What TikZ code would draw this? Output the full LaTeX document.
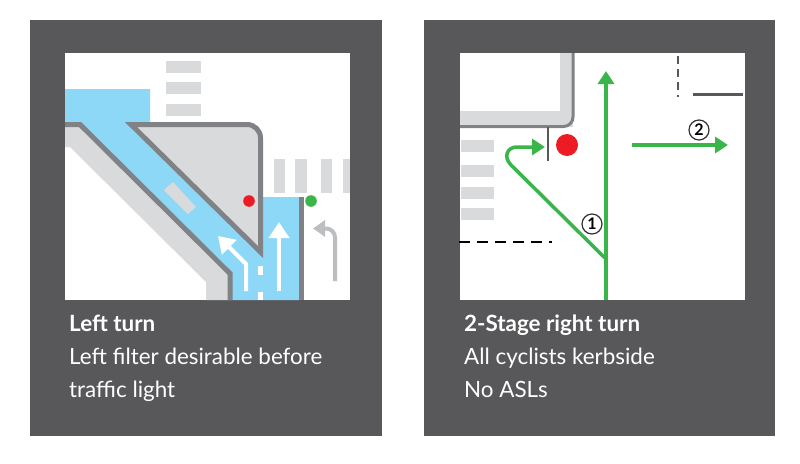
\documentclass[tikz,border=0pt]{standalone}
\usepackage{fontspec}
\setmainfont{Lato}
\usepackage{tikz}
\usetikzlibrary{arrows.meta}
\definecolor{panelgrey}{HTML}{58585A}
\definecolor{kerbgrey}{HTML}{808285}
\definecolor{padgrey}{HTML}{D9DADB}
\definecolor{signgrey}{HTML}{BCBEC0}
\definecolor{lanefill}{HTML}{8DD7F7}
\definecolor{cyclegreen}{HTML}{39B54A}
\definecolor{lightred}{HTML}{ED1C24}
\tikzset{
    caption/.style={anchor=base west, text=white, inner sep=0pt, font=\fontsize{22.4}{26}\selectfont},
    kerb/.style={draw=kerbgrey, line width=5pt, line join=miter},
    whitearrow/.style={draw=white, line width=4pt, -{Triangle[length=16pt,width=20pt]}},
    route/.style={draw=cyclegreen, line width=3.5pt, -{Triangle[length=13pt,width=16pt]}},
    stagemark/.style={circle, draw=black!80, line width=1.2pt, fill=white, minimum size=20pt, inner sep=0pt, font=\fontsize{16}{16}\selectfont\bfseries}
}
\newcommand{\panelbox}[2]{\fill[panelgrey] (#1,20) rectangle ++(351.5,416); \fill[white] (#2,53) rectangle ++(285,247);}
\newcommand{\hstripe}[3]{\fill[padgrey] (#1,#3) rectangle (#2,#3+11.5);}
\newcommand{\vstripe}[2]{\fill[padgrey] (#1,159) rectangle (#2,193);}

\begin{document}
\begin{tikzpicture}[x=1pt, y=-1pt]
    \useasboundingbox (0,0) rectangle (800,463);
    \fill[white] (0,0) rectangle (800,463);
    \panelbox{30}{65}
    \panelbox{423.5}{460}

    % left turn
    \fill[lanefill] (65,89) -- (150,89) -- (150,124) -- (131,124) -- (260,252) -- (263,252) -- (263,197)
        -- (299,197) -- (299,300) -- (230,300) -- (230,273) -- (80,124) -- (65,124) -- cycle;
    \fill[padgrey] (65,124) -- (80,124) -- (230,273) -- (230,300) -- (206,300) -- (206,282) -- (70,147) -- (65,147) -- cycle;
    \draw[kerb] (65,124.5) -- (80,124.5) -- (230,273.5) -- (230,300);
    \fill[padgrey] (131,124.5) -- (247,124.5) arc[start angle=-90, end angle=0, radius=13.5] -- (260.5,252) -- cycle;
    \draw[kerb] (260.5,252) -- (131,124.5) -- (247,124.5) arc[start angle=-90, end angle=0, radius=13.5] -- cycle;
    \draw[kerb] (301,197) -- (301,300);
    \hstripe{166}{201}{61}
    \hstripe{166}{201}{82}
    \hstripe{166}{201}{104}
    \vstripe{274}{285}
    \vstripe{295}{307}
    \vstripe{321}{332}
    \vstripe{343}{350}
    \fill[padgrey] (173,182) -- (196,207) -- (188,214) -- (164,190) -- cycle;
    \fill[white] (258,266) rectangle (263,275);
    \fill[white] (258,292) rectangle (263,300);
    \fill[lightred] (249,201) circle (5.8pt);
    \fill[cyclegreen] (311,201) circle (5.8pt);
    \coordinate (straightfoot) at (279,291);
    \coordinate (straighttip) at (279,222);
    \coordinate (filterfoot) at (246,291);
    \coordinate (filterbend) at (246,264);
    \coordinate (filtertip) at (218,236);
    \draw[whitearrow] (straightfoot) -- (straighttip);
    \draw[whitearrow] (filterfoot) -- (filterbend) -- (filtertip);
    \coordinate (signfoot) at (335,281);
    \coordinate (signtip) at (313,228.5);
    \draw[signgrey, line width=4pt, rounded corners=9pt, -{Triangle[length=12pt,width=16pt]}] (signfoot) -- (335,228.5) -- (signtip);
    \node[caption] (lefttitle) at (69,331) {\textbf{Left turn}};
    \node[caption] (leftone) at (69,364) {Left filter desirable before};
    \node[caption] (lefttwo) at (69,397) {traffic light};

    % two stage turn
    \fill[padgrey] (460,53) rectangle (573,127);
    \fill[white] (460,53) rectangle (560,111);
    \draw[kerbgrey, line width=3pt] (573,53) -- (573,117) arc[start angle=0, end angle=90, radius=9.5] -- (460,126.5);
    \draw[panelgrey, line width=2.5pt] (548,127) -- (548,161);
    \hstripe{461}{494}{140}
    \hstripe{461}{494}{165}
    \hstripe{461}{494}{187}
    \hstripe{461}{494}{208}
    \fill[lightred] (567,145) circle (11pt);
    \draw[black, line width=1.8pt, dash pattern=on 11pt off 7pt] (459,242) -- (552,242);
    \draw[panelgrey, line width=1.6pt, dash pattern=on 8pt off 5pt] (678,56) -- (678,97);
    \draw[panelgrey, line width=3pt] (693,94) -- (743,94);
    \coordinate (mainfoot) at (606,300);
    \coordinate (maintip) at (606,71);
    \coordinate (splitpoint) at (606,259);
    \coordinate (boxtip) at (545,147);
    \coordinate (crossfoot) at (632,145);
    \coordinate (crosstip) at (728,145);
    \draw[route] (mainfoot) -- (maintip);
    \draw[route] (splitpoint) -- (511,165) .. controls (503,157) and (507,147) .. (517,147) -- (boxtip);
    \draw[route] (crossfoot) -- (crosstip);
    \node[stagemark] (stageone) at (592,224) {1};
    \node[stagemark] (stagetwo) at (699,130) {2};
    \node[caption] (righttitle) at (464,331) {\textbf{2-Stage right turn}};
    \node[caption] (rightone) at (464,364) {All cyclists kerbside};
    \node[caption] (righttwo) at (464,397) {No ASLs};
\end{tikzpicture}
\end{document}
